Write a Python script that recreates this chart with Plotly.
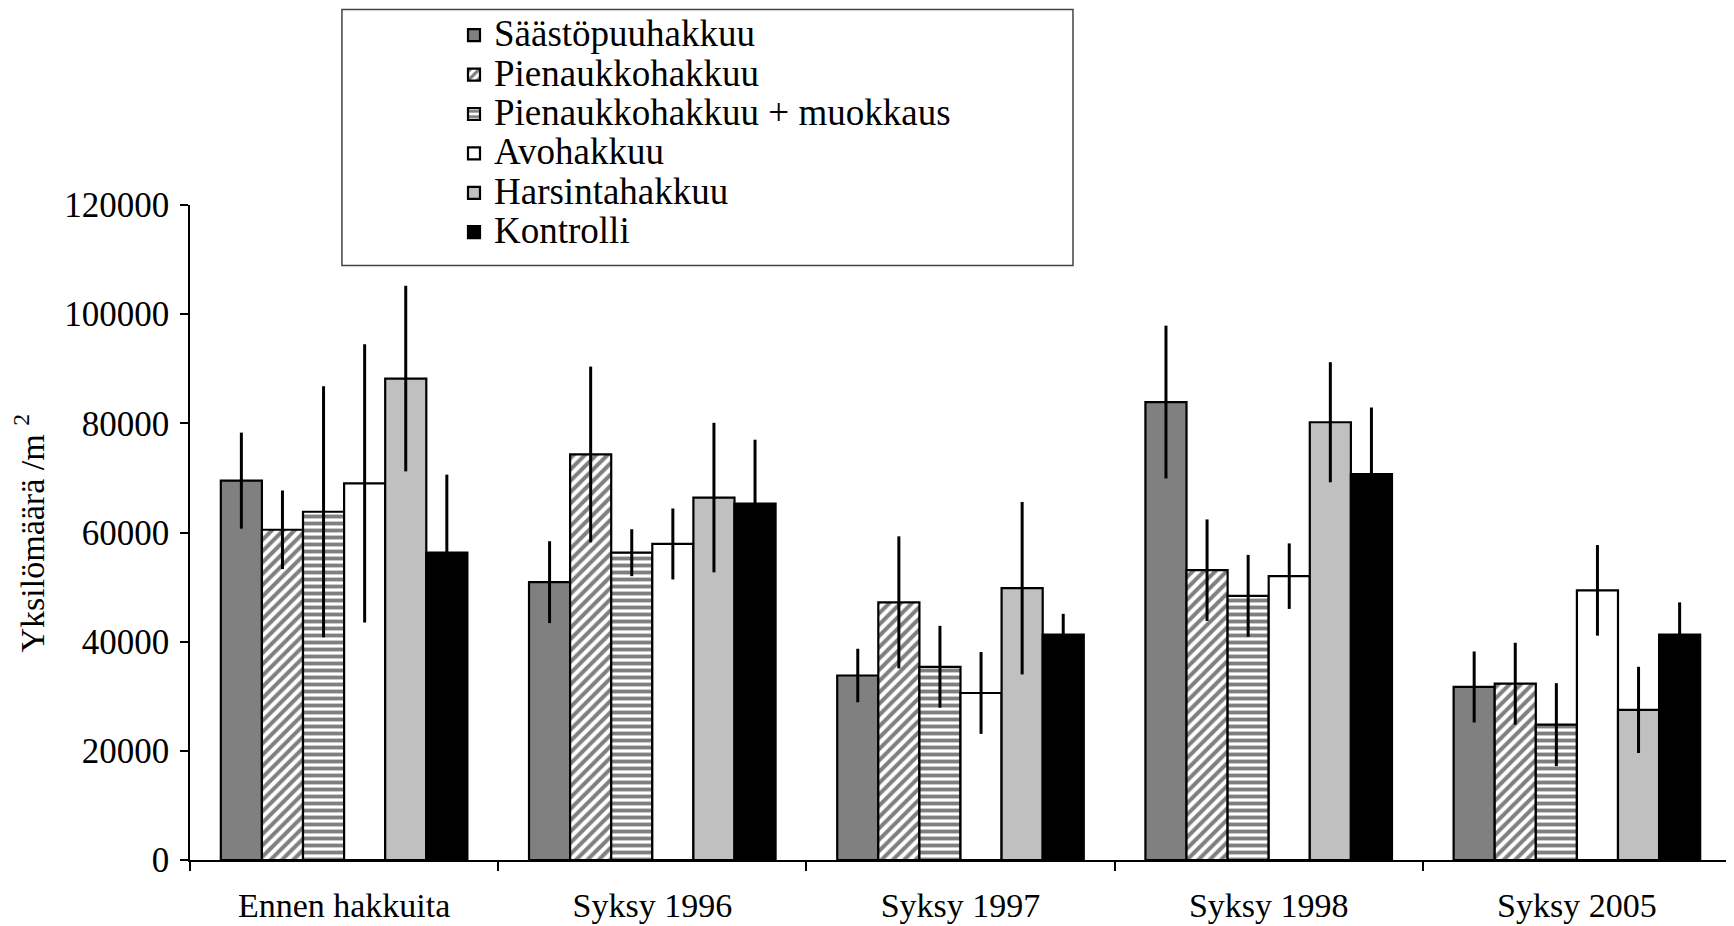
import plotly.graph_objects as go

categories = ["Ennen hakkuita", "Syksy 1996", "Syksy 1997", "Syksy 1998", "Syksy 2005"]
series_names = ["Säästöpuuhakkuu", "Pienaukkohakkuu", "Pienaukkohakkuu + muokkaus",
                "Avohakkuu", "Harsintahakkuu", "Kontrolli"]

saasto = [69500, 50900, 33800, 83900, 31700]
saasto_err = [8800, 7500, 4900, 14000, 6500]
pienaukko = [60500, 74300, 47200, 53100, 32300]
pienaukko_err = [7200, 16100, 12100, 9300, 7500]
muokkaus = [63800, 56300, 35400, 48400, 24800]
muokkaus_err = [23000, 4300, 7500, 7500, 7600]
avo = [69000, 57900, 30600, 52000, 49400]
avo_err = [25500, 6500, 7500, 6000, 8300]
harsinta = [88200, 66400, 49800, 80200, 27500]
harsinta_err = [17000, 13700, 15800, 11000, 7900]
kontrolli = [56300, 65300, 41300, 70700, 41300]
kontrolli_err = [14300, 11700, 3800, 12200, 5900]

y_ticks = [0, 20000, 40000, 60000, 80000, 100000, 120000]

FONT = "Liberation Serif, Times New Roman, serif"

values = [saasto, pienaukko, muokkaus, avo, harsinta, kontrolli]
errors = [saasto_err, pienaukko_err, muokkaus_err, avo_err, harsinta_err, kontrolli_err]
colors = ["#808080", "white", "white", "white", "#c0c0c0", "black"]
patterns = [None,
            dict(shape="/", fgcolor="black", bgcolor="white", size=8, solidity=0.5),
            dict(shape="-", fgcolor="black", bgcolor="white", size=7, solidity=0.55),
            None, None, None]

fig = go.Figure()
for name, v, e, c, p in zip(series_names, values, errors, colors, patterns):
    marker = dict(color=c, line=dict(color="black", width=2.2))
    if p is not None:
        marker["pattern"] = p
    fig.add_trace(go.Bar(
        x=categories, y=v, name=f'<span style="font-size:37px">{name}</span>',
        marker=marker,
        error_y=dict(type="data", array=e, visible=True, color="black", thickness=3, width=0),
    ))

# The page body adds an 8px offset; the figure is sized to fit the window.
fig.update_layout(
    width=1726, height=918,
    margin=dict(l=182, r=3, t=197, b=66, autoexpand=False),
    paper_bgcolor="white", plot_bgcolor="white",
    barmode="group", bargap=0.2, bargroupgap=0,
    font=dict(family=FONT, color="black"),
    showlegend=True,
    legend=dict(xref="container", yref="container", x=0.2584, y=0.9973,
                xanchor="left", yanchor="top",
                bgcolor="rgba(0,0,0,0)", borderwidth=0,
                font=dict(family=FONT, size=28, color="black")),
    shapes=[
        dict(type="rect", xref="paper", yref="paper", x0=0.0986, x1=0.5730,
             y0=0.9078, y1=1.2984, line=dict(color="#444", width=1.5),
             fillcolor="white", layer="below"),
        dict(type="rect", xref="paper", yref="paper", x0=1.0006, x1=1.003,
             y0=-0.11, y1=1.32, line=dict(width=0),
             fillcolor="#d9c6a5", layer="above"),
    ],
    annotations=[
        dict(text="Yksilömäärä /m <sup>2</sup>", xref="paper", yref="paper",
             x=-0.1045, y=0.5, xanchor="center", yanchor="middle", textangle=-90,
             showarrow=False, borderpad=0,
             font=dict(family=FONT, size=34, color="black")),
    ],
)
fig.update_xaxes(
    type="category", showline=True, linecolor="black", linewidth=1.5,
    ticks="outside", tickson="boundaries", ticklen=9, tickcolor="black", tickwidth=1.5,
    tickfont=dict(family=FONT, size=34), ticklabelstandoff=14, showgrid=False,
)
fig.update_yaxes(
    range=[0, 120000], tickvals=y_ticks, tickformat="d",
    showline=True, linecolor="black", linewidth=1.5,
    ticks="outside", ticklen=8, tickcolor="black", tickwidth=1.5,
    tickfont=dict(family=FONT, size=35), ticklabelstandoff=4, showgrid=False, zeroline=False,
)

fig.write_html("out.html")
